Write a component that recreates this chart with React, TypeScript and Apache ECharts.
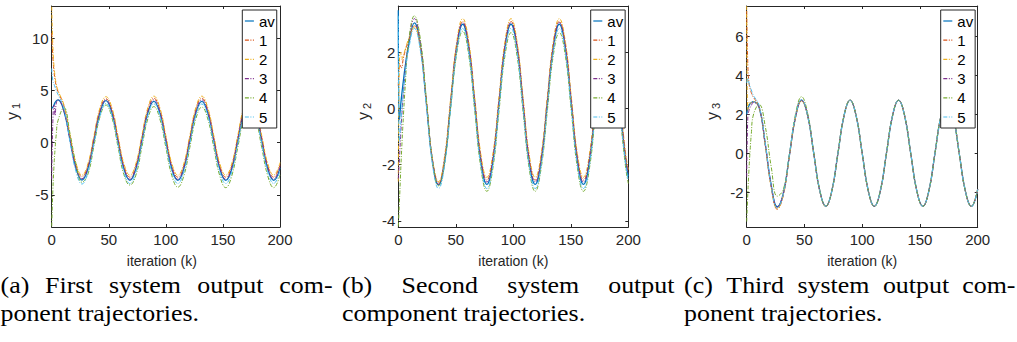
import React, { useEffect, useRef } from 'react';
import * as echarts from 'echarts';

// ---------- data ----------
const SERIES_NAMES = ['av', '1', '2', '3', '4', '5'];
const COLORS = ['#0072BD', '#D95319', '#EDB120', '#7E2F8E', '#77AC30', '#4DBEEE'];

const X_TICKS = [0, 50, 100, 150, 200];
const Y_TICKS_1 = [-5, 0, 5, 10];
const Y_TICKS_2 = [-4, -2, 0, 2];
const Y_TICKS_3 = [-2, 0, 2, 4, 6];

// sampled iterations (k) for panels (a) and (c)
const K13 = [0, 1, 2, 3, 4, 5.5, 10.75, 16, 21.25, 26.5, 31.75, 37, 42.25, 47.5, 52.75, 58, 63.25, 68.5,
  73.75, 79, 84.25, 89.5, 94.75, 100, 105.25, 110.5, 115.75, 121, 126.25, 131.5, 136.75, 142, 147.25,
  152.5, 157.75, 163, 168.25, 173.5, 178.75, 184, 189.25, 194.5, 200];
// sampled iterations (k) for panel (b)
const K2 = [0, 1, 2, 3, 4, 6, 8.75, 14, 19.25, 24.5, 29.75, 35, 40.25, 45.5, 50.75, 56, 61.25, 66.5,
  71.75, 77, 82.25, 87.5, 92.75, 98, 103.25, 108.5, 113.75, 119, 124.25, 129.5, 134.75, 140, 145.25,
  150.5, 155.75, 161, 166.25, 171.5, 176.75, 182, 187.25, 192.5, 197.75, 200];

// panel (a): y1
const Y1_AV = [3.3, 3.4, 3.6, 3.85, 4.0, 4.1,
  3.0, 0.3, -2.45, -3.57, -2.48, 0.18, 2.86, 4.02,
  2.86, 0.18, -2.5, -3.6, -2.49, 0.17, 2.85, 3.96,
  2.85, 0.18, -2.49, -3.6, -2.49, 0.18, 2.85, 3.96,
  2.85, 0.18, -2.49, -3.6, -2.49, 0.18, 2.85, 3.96,
  2.85, 0.18, -2.49, -3.6, -2.4];
const Y1_S1 = [10.5, 8.2, 6.8, 6.0, 5.4, 4.9,
  3.5, 0.6, -2.15, -3.25, -2.18, 0.47, 3.12, 4.2,
  3.14, 0.48, -2.19, -3.3, -2.19, 0.48, 3.15, 4.25,
  3.15, 0.48, -2.19, -3.3, -2.19, 0.48, 3.15, 4.25,
  3.15, 0.48, -2.19, -3.3, -2.19, 0.48, 3.15, 4.25,
  3.15, 0.48, -2.19, -3.3, -2.1];
const Y1_S2 = [13.0, 9.3, 7.3, 6.3, 5.6, 5.0,
  3.6, 0.75, -1.95, -3.1, -2.0, 0.66, 3.32, 4.4,
  3.35, 0.68, -1.99, -3.1, -1.99, 0.68, 3.35, 4.45,
  3.35, 0.68, -1.99, -3.1, -1.99, 0.68, 3.35, 4.45,
  3.35, 0.68, -1.99, -3.1, -1.99, 0.68, 3.35, 4.45,
  3.35, 0.68, -1.99, -3.1, -1.9];
const Y1_S3 = [-3.5, 2.0, 3.6, 2.6, 3.8, 4.1,
  3.0, 0.3, -2.38, -3.45, -2.37, 0.3, 2.97, 4.1,
  2.97, 0.3, -2.37, -3.5, -2.37, 0.3, 2.97, 4.1,
  2.97, 0.3, -2.37, -3.5, -2.37, 0.3, 2.97, 4.1,
  2.97, 0.3, -2.37, -3.5, -2.37, 0.3, 2.97, 4.1,
  2.97, 0.3, -2.37, -3.5, -2.27];
const Y1_S4 = [-8.0, -4.6, -2.2, -0.5, 0.8, 2.1,
  3.35, 0.9, -2.0, -3.78, -3.0, -0.3, 2.45, 3.6,
  2.4, -0.35, -3.05, -4.05, -3.1, -0.42, 2.3, 3.45,
  2.27, -0.45, -3.15, -4.25, -3.17, -0.45, 2.27, 3.4,
  2.27, -0.45, -3.17, -4.3, -3.17, -0.45, 2.27, 3.4,
  2.27, -0.45, -3.17, -4.3, -3.07];
const Y1_S5 = [7.1, 5.9, 5.6, 5.3, 5.0, 4.6,
  3.3, 0.1, -2.75, -3.95, -2.8, -0.1, 2.55, 3.75,
  2.6, -0.1, -2.79, -3.9, -2.79, -0.1, 2.59, 3.7,
  2.59, -0.1, -2.79, -3.9, -2.79, -0.1, 2.59, 3.7,
  2.59, -0.1, -2.79, -3.9, -2.79, -0.1, 2.59, 3.7,
  2.59, -0.1, -2.79, -3.9, -2.68];

// panel (b): y2
const Y2_AV = [3.5, -0.4, 0.1, 0.5, 0.85, 1.5,
  2.2, 3.05,
  2.2, 0.15, -1.9, -2.72, -1.9, 0.15, 2.17, 3.0,
  2.17, 0.15, -1.87, -2.7, -1.87, 0.15, 2.17, 3.0,
  2.17, 0.15, -1.87, -2.7, -1.87, 0.15, 2.17, 3.0,
  2.17, 0.15, -1.87, -2.7, -1.87, 0.15, 2.17, 3.0,
  2.17, 0.15, -1.87, -2.42];
const Y2_S1 = [0.8, 1.6, 1.5, 1.45, 1.7, 2.05,
  2.4, 2.95,
  2.15, 0.2, -1.85, -2.65, -1.78, 0.25, 2.25, 3.1,
  2.28, 0.28, -1.72, -2.55, -1.72, 0.28, 2.28, 3.1,
  2.28, 0.28, -1.72, -2.55, -1.72, 0.28, 2.28, 3.1,
  2.28, 0.28, -1.72, -2.55, -1.72, 0.28, 2.28, 3.1,
  2.28, 0.28, -1.72, -2.27];
const Y2_S2 = [-2.6, 1.8, 2.0, 1.75, 1.85, 2.1,
  2.45, 2.9,
  2.15, 0.25, -1.8, -2.6, -1.7, 0.35, 2.35, 3.2,
  2.38, 0.38, -1.62, -2.45, -1.62, 0.38, 2.38, 3.2,
  2.38, 0.38, -1.62, -2.45, -1.62, 0.38, 2.38, 3.2,
  2.38, 0.38, -1.62, -2.45, -1.62, 0.38, 2.38, 3.2,
  2.38, 0.38, -1.62, -2.17];
const Y2_S3 = [-2.5, -1.8, -1.0, -0.3, 0.3, 1.3,
  2.3, 3.2,
  2.3, 0.2, -1.85, -2.7, -1.82, 0.2, 2.22, 3.06,
  2.23, 0.22, -1.79, -2.62, -1.79, 0.22, 2.23, 3.06,
  2.23, 0.22, -1.79, -2.62, -1.79, 0.22, 2.23, 3.06,
  2.23, 0.22, -1.79, -2.62, -1.79, 0.22, 2.23, 3.06,
  2.23, 0.22, -1.79, -2.33];
const Y2_S4 = [-4.2, -3.3, -2.3, -1.4, -0.6, 0.8,
  2.3, 3.3,
  2.45, 0.3, -1.9, -2.75, -1.95, 0.0, 1.95, 2.75,
  1.9, -0.1, -2.1, -2.95, -2.12, -0.12, 1.88, 2.7,
  1.88, -0.12, -2.12, -2.95, -2.12, -0.12, 1.88, 2.7,
  1.88, -0.12, -2.12, -2.95, -2.12, -0.12, 1.88, 2.7,
  1.88, -0.12, -2.12, -2.67];
const Y2_S5 = [3.3, -1.2, -0.6, -0.1, 0.4, 1.2,
  2.05, 2.85,
  2.05, 0.05, -2.0, -2.85, -2.02, 0.0, 2.02, 2.85,
  2.02, 0.0, -2.02, -2.85, -2.02, 0.0, 2.02, 2.85,
  2.02, 0.0, -2.02, -2.85, -2.02, 0.0, 2.02, 2.85,
  2.02, 0.0, -2.02, -2.85, -2.02, 0.0, 2.02, 2.85,
  2.02, 0.0, -2.02, -2.57];

// panel (c): y3
const Y3_AV = [2.0, 2.3, 2.45, 2.55, 2.6, 2.65,
  2.35, 0.5, -1.65, -2.75, -2.05, -0.1, 1.85, 2.72,
  1.95, 0.02, -1.92, -2.72, -1.92, 0.0, 1.92, 2.72,
  1.92, 0.0, -1.92, -2.72, -1.92, 0.0, 1.92, 2.72,
  1.92, 0.0, -1.92, -2.72, -1.92, 0.0, 1.92, 2.72,
  1.92, 0.0, -1.92, -2.72, -1.85];
const Y3_S1 = [7.3, 4.5, 3.6, 3.3, 3.1, 2.9,
  2.4, 0.45, -1.75, -2.87, -2.15, -0.12, 1.84, 2.7,
  1.93, 0.0, -1.93, -2.73, -1.92, 0.0, 1.92, 2.72,
  1.92, 0.0, -1.92, -2.72, -1.92, 0.0, 1.92, 2.72,
  1.92, 0.0, -1.92, -2.72, -1.92, 0.0, 1.92, 2.72,
  1.92, 0.0, -1.92, -2.72, -1.85];
const Y3_S2 = [7.55, 2.2, 2.6, 2.55, 2.6, 2.65,
  2.35, 0.45, -1.75, -2.85, -2.1, -0.12, 1.83, 2.68,
  1.92, 0.0, -1.93, -2.73, -1.92, 0.0, 1.92, 2.72,
  1.92, 0.0, -1.92, -2.72, -1.92, 0.0, 1.92, 2.72,
  1.92, 0.0, -1.92, -2.72, -1.92, 0.0, 1.92, 2.72,
  1.92, 0.0, -1.92, -2.72, -1.85];
const Y3_S3 = [-1.2, 1.9, 2.2, 2.35, 2.45, 2.6,
  2.35, 0.5, -1.65, -2.75, -2.05, -0.1, 1.85, 2.72,
  1.94, 0.02, -1.92, -2.72, -1.92, 0.0, 1.92, 2.72,
  1.92, 0.0, -1.92, -2.72, -1.92, 0.0, 1.92, 2.72,
  1.92, 0.0, -1.92, -2.72, -1.92, 0.0, 1.92, 2.72,
  1.92, 0.0, -1.92, -2.72, -1.85];
const Y3_S4 = [-3.5, -2.0, -0.8, 0.2, 1.0, 1.9,
  2.5, 1.4, -0.7, -2.2, -1.85, -0.05, 2.0, 2.9,
  2.05, 0.05, -1.88, -2.7, -1.92, 0.0, 1.92, 2.72,
  1.92, 0.0, -1.92, -2.72, -1.92, 0.0, 1.92, 2.72,
  1.92, 0.0, -1.92, -2.72, -1.92, 0.0, 1.92, 2.72,
  1.92, 0.0, -1.92, -2.72, -1.85];
const Y3_S5 = [3.6, 3.85, 3.6, 3.4, 3.25, 3.0,
  2.45, 0.55, -1.7, -2.8, -2.1, -0.05, 1.9, 2.74,
  1.92, 0.0, -1.92, -2.72, -1.92, 0.0, 1.92, 2.72,
  1.92, 0.0, -1.92, -2.72, -1.92, 0.0, 1.92, 2.72,
  1.92, 0.0, -1.92, -2.72, -1.92, 0.0, 1.92, 2.72,
  1.92, 0.0, -1.92, -2.72, -1.85];

const X_LABEL = 'iteration (k)';
const Y_SUBS = ['1', '2', '3'];

// caption words: [text, left x]
const CAPTION_LINE1: [string, number][] = [
  ['(a)', 0.5], ['First', 45.1], ['system', 108.9], ['output', 197.2], ['com-', 279.3],
  ['(b)', 342], ['Second', 401.6], ['system', 507.3], ['output', 608.2],
  ['(c)', 684], ['Third', 726.3], ['system', 797.4], ['output', 882.9], ['com-', 962.2],
];
const CAPTION_LINE2: [string, number][] = [
  ['ponent trajectories.', 0.5], ['component trajectories.', 342], ['ponent trajectories.', 684],
];

// ---------- layout ----------
const AX = '#262626';
const SANS = "'Liberation Sans', Arial, Helvetica, sans-serif";
const SERIF = "'Liberation Serif', 'Times New Roman', Times, serif";

const PANELS = [
  { left: 51.7, right: 280, ymin: -8.06, ymax: 13.07, yticks: Y_TICKS_1, K: K13,
    data: [Y1_AV, Y1_S1, Y1_S2, Y1_S3, Y1_S4, Y1_S5], legendLeft: 242.3, yLabRight: 20, nameShift: 8 },
  { left: 398.3, right: 628.3, ymin: -4.22, ymax: 3.65, yticks: Y_TICKS_2, K: K2,
    data: [Y2_AV, Y2_S1, Y2_S2, Y2_S3, Y2_S4, Y2_S5], legendLeft: 590.7, yLabRight: 371.7, nameShift: 0 },
  { left: 746.7, right: 977.7, ymin: -3.78, ymax: 7.55, yticks: Y_TICKS_3, K: K13,
    data: [Y3_AV, Y3_S1, Y3_S2, Y3_S3, Y3_S4, Y3_S5], legendLeft: 940.7, yLabRight: 720, nameShift: 0 },
];
const TOP = 6;
const BOTTOM = 227;

function buildOption(): any {
  const grid: any[] = [];
  const xAxis: any[] = [];
  const yAxis: any[] = [];
  const series: any[] = [];
  const legend: any[] = [];
  const graphic: any[] = [];

  PANELS.forEach((p, i) => {
    grid.push({ left: p.left, top: TOP, width: p.right - p.left, height: BOTTOM - TOP, containLabel: false });
    const axisLine = { show: true, onZero: false, lineStyle: { color: AX, width: 1 } };
    const tick = { show: true, inside: true, length: 3, lineStyle: { color: AX, width: 1 } };
    xAxis.push({
      gridIndex: i, type: 'value', position: 'bottom', min: X_TICKS[0], max: X_TICKS[X_TICKS.length - 1], interval: 50,
      axisLine, axisTick: tick, splitLine: { show: false },
      axisLabel: { show: true, fontSize: 15, color: AX, fontFamily: SANS, margin: 5 },
      name: X_LABEL, nameLocation: 'middle', nameGap: 27,
      nameTextStyle: { fontSize: 14, color: AX, fontFamily: SANS, padding: [0, p.nameShift, 0, 0] },
    });
    xAxis.push({
      gridIndex: i, type: 'value', position: 'top', min: X_TICKS[0], max: X_TICKS[X_TICKS.length - 1], interval: 50,
      axisLine, axisTick: tick, splitLine: { show: false }, axisLabel: { show: false },
    });
    yAxis.push({
      gridIndex: i, type: 'value', position: 'left', min: p.ymin, max: p.ymax,
      axisLine, axisTick: { ...tick, customValues: p.yticks }, splitLine: { show: false },
      axisLabel: { show: true, customValues: p.yticks, fontSize: 15, color: AX, fontFamily: SANS, margin: 3 },
    });
    yAxis.push({
      gridIndex: i, type: 'value', position: 'right', min: p.ymin, max: p.ymax,
      axisLine, axisTick: { ...tick, customValues: p.yticks }, splitLine: { show: false },
      axisLabel: { show: false },
    });

    p.data.forEach((vals, s) => {
      series.push({
        type: 'line',
        name: SERIES_NAMES[s],
        xAxisIndex: 2 * i,
        yAxisIndex: 2 * i,
        data: p.K.map((k, j) => [k, vals[j]]),
        symbol: 'none',
        showSymbol: false,
        smooth: 0.45,
        silent: true,
        clip: true,
        itemStyle: { color: COLORS[s] },
        lineStyle: {
          color: COLORS[s],
          width: s === 0 ? 1.3 : 1,
          type: s === 0 ? 'solid' : [4, 1.5, 1, 1.5],
        },
      });
    });

    legend.push({
      orient: 'vertical', left: p.legendLeft, top: 10,
      data: SERIES_NAMES,
      itemWidth: 9, itemHeight: 8, itemGap: 3.2,
      padding: [3, 2, 3, 2],
      backgroundColor: '#ffffff', borderColor: AX, borderWidth: 1, borderRadius: 0,
      selectedMode: false,
      itemStyle: { opacity: 0 },
      lineStyle: { width: 1.2 },
      textStyle: { fontSize: 15, color: '#000', fontFamily: SANS, lineHeight: 16 },
    });

    // y-axis label: "y" with subscript
    graphic.push({
      type: 'text', x: p.yLabRight - 8, y: 116, rotation: Math.PI / 2, silent: true,
      style: { text: 'y', fontSize: 16, fontFamily: SANS, fill: AX, align: 'center', verticalAlign: 'middle' },
    });
    graphic.push({
      type: 'text', x: p.yLabRight - 4.5, y: 106, rotation: Math.PI / 2, silent: true,
      style: { text: Y_SUBS[i], fontSize: 11, fontFamily: SANS, fill: AX, align: 'center', verticalAlign: 'middle' },
    });
  });

  CAPTION_LINE1.forEach(([t, x]) => {
    graphic.push({
      type: 'text', x, y: 285, scaleX: 1.08, silent: true,
      style: { text: t, fontSize: 24, fontFamily: SERIF, fill: '#000', align: 'left', verticalAlign: 'middle' },
    });
  });
  CAPTION_LINE2.forEach(([t, x]) => {
    graphic.push({
      type: 'text', x, y: 313, scaleX: 1.08, silent: true,
      style: { text: t, fontSize: 24, fontFamily: SERIF, fill: '#000', align: 'left', verticalAlign: 'middle' },
    });
  });

  return {
    animation: false,
    backgroundColor: '#ffffff',
    textStyle: { fontFamily: SANS },
    grid, xAxis, yAxis, series, legend, graphic,
  };
}

export default function App() {
  const ref = useRef<HTMLDivElement>(null);
  useEffect(() => {
    if (!ref.current) return;
    const chart = echarts.init(ref.current, null, { renderer: 'svg' });
    chart.setOption(buildOption());
    return () => chart.dispose();
  }, []);
  return (
    <div
      ref={ref}
      style={{ position: 'absolute', left: 0, top: 0, width: 1017, height: 342, background: '#ffffff' }}
    />
  );
}
